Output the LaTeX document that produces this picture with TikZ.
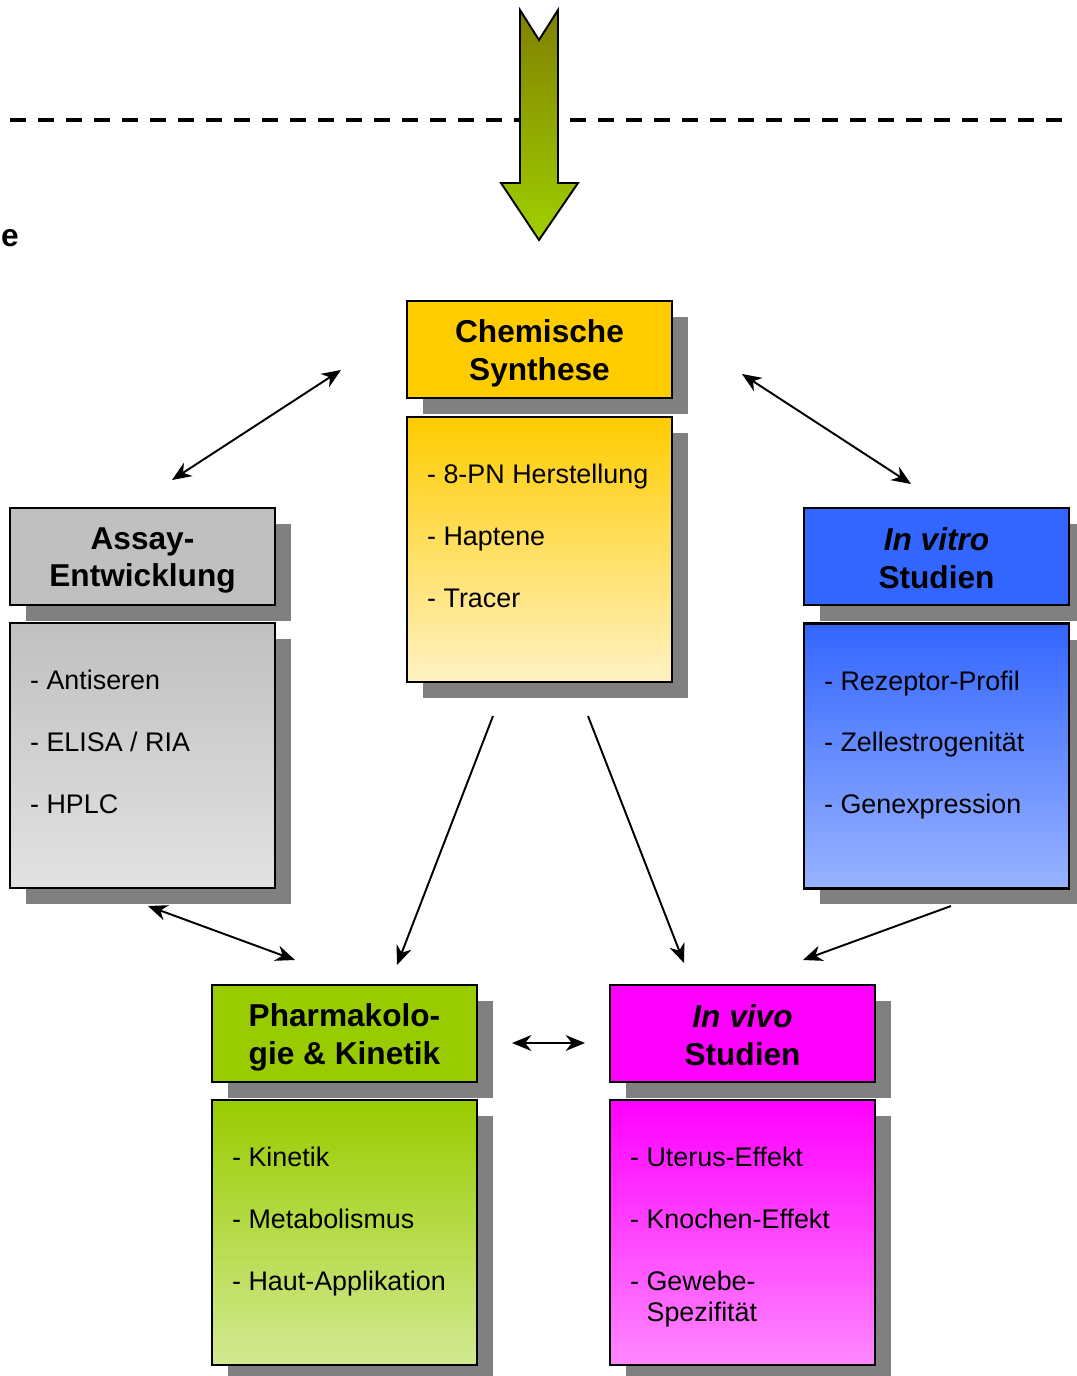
\documentclass[tikz,border=0pt]{standalone}
\usepackage{fontspec}
\setmainfont{Liberation Sans}
\usetikzlibrary{arrows.meta}
\definecolor{yelH}{HTML}{FFCC00}
\definecolor{yelB}{HTML}{FFF2C4}
\definecolor{gryH}{HTML}{C0C0C0}
\definecolor{gryB}{HTML}{E2E2E2}
\definecolor{bluH}{HTML}{3366FF}
\definecolor{bluB}{HTML}{99B3FF}
\definecolor{grnH}{HTML}{99CC00}
\definecolor{grnB}{HTML}{D3E992}
\definecolor{magH}{HTML}{FF00FF}
\definecolor{magB}{HTML}{FF88FF}
\definecolor{shadowgray}{HTML}{808080}
\definecolor{olive}{HTML}{808000}
\definecolor{arrowgreen}{HTML}{A0D000}
\newcommand{\hdrfont}{\fontsize{18}{21.5}\selectfont\bfseries}
\newcommand{\bodyfont}{\fontsize{15.3}{17.6}\selectfont}
\tikzset{
  hdrbox/.style={draw=black, line width=1.4pt, rectangle, minimum width=5.3cm, minimum height=1.94cm, inner sep=0pt},
  hdrtext/.style={inner sep=0pt, font=\hdrfont, align=center},
  bodybox/.style={draw=black, line width=1.4pt, rectangle, minimum width=5.3cm, minimum height=5.3cm, inner sep=0pt},
  bodytext/.style={anchor=north west, inner sep=0pt, align=left, font=\bodyfont},
  link/.style={line width=1.1pt, draw=black},
  tip/.style={-{Stealth[length=11pt, width=9pt, inset=3.5pt]}},
  tips/.style={{Stealth[length=11pt, width=9pt, inset=3.5pt]}-{Stealth[length=11pt, width=9pt, inset=3.5pt]}},
}
\begin{document}
\begin{tikzpicture}[x=0.02cm, y=-0.02cm]
\useasboundingbox (0,0) rectangle (1077,1376);

% dashed line
\draw[line width=2.2pt, dash pattern=on 0.32cm off 0.24cm] (10,120) -- (1065,120);

% top arrow
\shade[top color=olive, bottom color=arrowgreen, draw=black, line width=1.1pt, line join=miter]
  (520,10) -- (539,40) -- (558,10) -- (558,183) -- (578,183) -- (539,240) -- (501,183) -- (520,183) -- cycle;

% cut-off text
\node[anchor=east, inner sep=0pt, font=\hdrfont] (ecut) at (19,238) {e};

% shadows
\fill[shadowgray] (423,317) rectangle (688,414);
\fill[shadowgray] (423,433) rectangle (688,698);
\fill[shadowgray] (26,524) rectangle (291,621);
\fill[shadowgray] (26,639) rectangle (291,904);
\fill[shadowgray] (820,524) rectangle (1085,621);
\fill[shadowgray] (820,640) rectangle (1085,904);
\fill[shadowgray] (228,1001) rectangle (493,1098);
\fill[shadowgray] (228,1116) rectangle (493,1381);
\fill[shadowgray] (626,1001) rectangle (891,1098);
\fill[shadowgray] (626,1116) rectangle (891,1381);

% Chemische Synthese
\node[hdrbox, fill=yelH] (chemH) at (539.5,349.5) {};
\node[hdrtext] (chemHT) at ([shift={(0,4)}]chemH.center) {Chemische\\Synthese};
\node[bodybox, top color=yelH, bottom color=yelB] (chemB) at (539.5,549.5) {};
\node[bodytext] (chemT) at ([shift={(21,48)}]chemB.north west)
  {- 8-PN Herstellung\\[17.6pt]- Haptene\\[17.6pt]- Tracer};

% Assay-Entwicklung
\node[hdrbox, fill=gryH] (assH) at (142.5,556.5) {};
\node[hdrtext] (assHT) at ([shift={(0,4)}]assH.center) {Assay-\\Entwicklung};
\node[bodybox, top color=gryH, bottom color=gryB] (assB) at (142.5,755.5) {};
\node[bodytext] (assT) at ([shift={(21,48)}]assB.north west)
  {- Antiseren\\[17.6pt]- ELISA / RIA\\[17.6pt]- HPLC};

% In vitro
\node[hdrbox, fill=bluH] (vitH) at (936.5,556.5) {};
\node[hdrtext] (vitHT) at ([shift={(0,2)}]vitH.center) {{\itshape In vitro}\\Studien};
\node[bodybox, top color=bluH, bottom color=bluB] (vitB) at (936.5,756) {};
\node[bodytext] (vitT) at ([shift={(21,48)}]vitB.north west)
  {- Rezeptor-Profil\\[17.6pt]- Zellestrogenit\"at\\[17.6pt]- Genexpression};

% Pharmakologie
\node[hdrbox, fill=grnH] (phaH) at (344.5,1033.5) {};
\node[hdrtext] (phaHT) at ([shift={(0,4)}]phaH.center) {Pharmakolo-\\gie \& Kinetik};
\node[bodybox, top color=grnH, bottom color=grnB] (phaB) at (344.5,1232.5) {};
\node[bodytext] (phaT) at ([shift={(21,48)}]phaB.north west)
  {- Kinetik\\[17.6pt]- Metabolismus\\[17.6pt]- Haut-Applikation};

% In vivo
\node[hdrbox, fill=magH] (vivH) at (742.5,1033.5) {};
\node[hdrtext] (vivHT) at ([shift={(0,2)}]vivH.center) {{\itshape In vivo}\\Studien};
\node[bodybox, top color=magH, bottom color=magB] (vivB) at (742.5,1232.5) {};
\node[bodytext] (vivT) at ([shift={(21,48)}]vivB.north west)
  {- Uterus-Effekt\\[17.6pt]- Knochen-Effekt\\[17.6pt]- Gewebe-\\\hphantom{- }Spezifit\"at};

% connector end points
\coordinate (a1) at (341,370); \coordinate (a2) at (172,480);
\coordinate (b1) at (742,374); \coordinate (b2) at (911,484);
\coordinate (c1) at (493,716); \coordinate (c2) at (397,965);
\coordinate (d1) at (588,716); \coordinate (d2) at (684,963);
\coordinate (e1) at (148,906); \coordinate (e2) at (295,960);
\coordinate (f1) at (951,906); \coordinate (f2) at (803,960);
\coordinate (g1) at (512,1043); \coordinate (g2) at (585,1043);

\draw[link, tips] (a1) -- (a2);
\draw[link, tips] (b1) -- (b2);
\draw[link, tip] (c1) -- (c2);
\draw[link, tip] (d1) -- (d2);
\draw[link, tips] (e1) -- (e2);
\draw[link, tip] (f1) -- (f2);
\draw[link, tips] (g1) -- (g2);
\end{tikzpicture}
\end{document}
